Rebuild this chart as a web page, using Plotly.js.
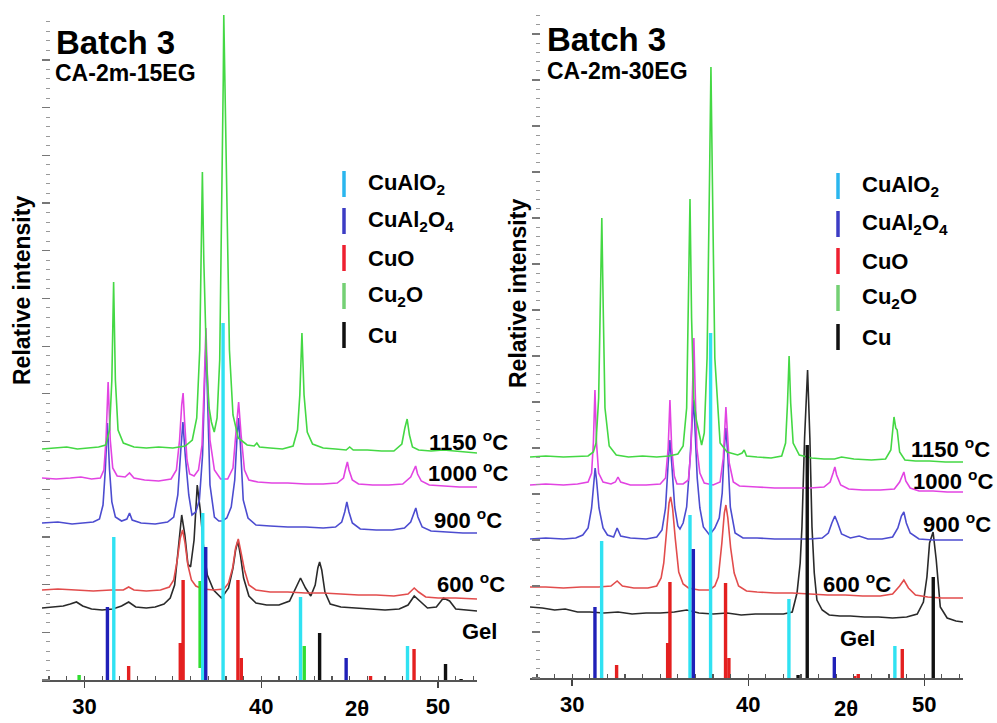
<!DOCTYPE html>
<html>
<head>
<meta charset="utf-8">
<script src="https://cdn.plot.ly/plotly-3.0.1.min.js"></script>
<style>
  html, body { margin: 0; padding: 0; background: #fff; }
  #chart { width: 997px; height: 723px; }
</style>
</head>
<body>
<div id="chart"></div>
<script>
// ---------- XRD patterns, 2θ (deg) vs relative intensity (a.u.) ----------
// Sample CA-2m-15EG (left panel)
const tt15_1150 = [27.6,28.3,29.0,29.6,30.2,30.8,31.2,31.42,31.55,31.65,31.75,31.9,32.2,32.8,33.5,34.2,35.0,35.7,36.1,36.35,36.52,36.6,36.67,36.75,36.9,37.05,37.18,37.34,37.5,37.65,37.78,37.85,37.88,37.94,38.05,38.2,38.4,38.7,39.2,39.6,39.75,39.9,40.5,41.2,41.8,42.05,42.18,42.3,42.42,42.6,42.9,43.5,44.2,44.8,45.0,45.2,46.0,46.8,47.5,47.95,48.12,48.25,48.38,48.55,48.9,49.6,50.3,51.0,51.6,52.2];
const int15_1150 = [231,232,233,231,232,233,235,250,300,398,300,250,237,233,232,233,232,234,240,262,330,420,508,420,320,272,258,248,262,320,480,600,665,600,470,330,265,242,235,234,237,233,232,231,234,250,285,347,285,248,236,232,231,230,233,230,230,229,229,236,252,261,245,233,230,229,230,229,228,227];

const tt15_1000 = [27.6,28.4,29.2,29.8,30.4,30.9,31.1,31.22,31.34,31.46,31.6,31.85,32.3,32.55,32.8,33.4,34.2,34.9,35.2,35.38,35.5,35.58,35.66,35.8,35.95,36.2,36.45,36.65,36.78,36.87,36.96,37.1,37.35,37.7,38.1,38.4,38.58,38.72,38.86,39.05,39.3,39.8,40.6,41.5,42.5,43.5,44.3,44.65,44.78,44.87,44.96,45.15,45.5,46.3,47.2,48.0,48.45,48.62,48.73,48.84,49.05,49.5,50.3,51.2,52.2];
const int15_1000 = [202,201,202,203,201,202,210,240,298,240,212,204,203,207,202,200,199,201,210,240,275,287,260,220,206,204,210,235,300,352,300,240,210,201,201,212,250,278,245,210,200,198,197,197,196,196,197,202,212,218,210,200,196,195,195,196,203,210,214,206,199,195,194,193,193];

const tt15_900 = [27.6,28.5,29.3,30.0,30.5,30.85,31.05,31.18,31.3,31.42,31.55,31.75,32.1,32.4,32.55,32.7,33.2,34.0,34.7,35.05,35.28,35.45,35.57,35.7,35.9,36.08,36.3,36.5,36.68,36.8,36.87,36.95,37.1,37.35,37.6,37.8,38.05,38.3,38.5,38.62,38.72,38.82,38.98,39.25,39.7,40.5,41.5,42.5,43.5,44.2,44.55,44.72,44.84,44.96,45.15,45.6,46.5,47.4,48.1,48.45,48.62,48.74,48.86,49.1,49.6,50.5,51.4,52.2];
const int15_900 = [157,158,156,157,158,161,175,210,257,210,178,163,159,161,167,160,157,156,158,163,185,230,258,225,185,165,168,180,225,300,335,290,195,163,159,159,162,173,200,240,262,235,180,162,155,154,153,153,152,153,158,168,178,168,157,151,150,150,152,158,167,172,163,153,149,148,147,147];

const tt15_600 = [27.6,28.5,29.5,30.5,31.5,32.2,32.5,32.8,33.5,34.3,34.8,35.05,35.25,35.42,35.55,35.68,35.85,36.05,36.3,36.7,37.3,37.9,38.15,38.38,38.55,38.7,38.85,39.05,39.3,39.7,40.5,41.5,42.5,43.5,44.5,45.5,46.5,47.5,48.3,48.65,48.9,49.3,50.0,51.0,52.2];
const int15_600 = [90,91,90,89,90,90,93,90,89,90,93,100,120,142,150,138,115,100,94,91,90,91,97,112,132,141,128,110,95,90,88,88,87,87,86,85,85,84,86,92,88,83,82,82,81];

const tt15_gel = [27.6,28.2,28.8,29.2,29.55,29.9,30.4,31.0,31.6,32.1,32.5,32.9,33.5,34.0,34.5,34.85,35.1,35.3,35.5,35.68,35.85,36.0,36.2,36.38,36.55,36.75,36.95,37.3,37.75,38.15,38.4,38.55,38.68,38.82,39.0,39.3,39.7,40.3,41.0,41.6,41.95,42.22,42.5,42.8,43.05,43.2,43.3,43.42,43.6,43.9,44.5,45.3,46.2,47.0,47.8,48.3,48.65,49.0,49.4,49.9,50.3,50.65,51.0,51.6,52.2];
const int15_gel = [72,73,74,76,78,74,71,70,71,74,78,73,72,73,76,82,95,130,165,145,116,113,140,195,170,130,105,90,82,92,112,130,139,125,102,84,77,75,75,79,92,102,92,84,95,112,118,110,88,76,73,72,71,70,71,75,84,78,72,73,82,79,71,70,69];

// Sample CA-2m-30EG (right panel)
const tt30_1150 = [27.6,28.5,29.5,30.3,30.9,31.2,31.35,31.5,31.6,31.68,31.76,31.86,32.1,32.5,33.2,34.0,34.8,35.5,36.0,36.3,36.5,36.6,36.69,36.78,36.9,37.05,37.16,37.35,37.5,37.66,37.8,37.88,37.96,38.1,38.4,38.8,39.4,39.65,39.77,39.9,40.5,41.3,41.9,42.12,42.23,42.32,42.41,42.55,42.9,43.6,44.3,44.9,45.3,46.0,47.0,47.8,48.1,48.2,48.28,48.38,48.46,48.6,48.9,49.5,50.3,51.2,52.2];
const int30_1150 = [221,222,221,222,222,226,235,280,380,460,370,270,232,223,221,222,221,222,224,232,270,360,479,360,280,258,250,233,245,320,500,611,500,320,235,226,223,225,228,222,221,220,222,235,275,322,275,235,223,220,219,219,221,219,218,219,228,250,261,250,248,226,218,217,217,216,216];

const tt30_1000 = [27.6,28.5,29.5,30.3,30.9,31.1,31.2,31.29,31.38,31.5,31.75,32.2,32.45,32.6,32.75,33.3,34.2,35.0,35.3,35.45,35.55,35.65,35.8,35.95,36.3,36.6,36.75,36.84,36.91,36.98,37.08,37.25,37.5,38.0,38.4,38.58,38.66,38.73,38.8,38.92,39.15,39.5,40.5,41.5,42.5,43.5,44.3,44.65,44.82,44.92,45.02,45.25,45.7,46.5,47.5,48.3,48.6,48.75,48.84,48.95,49.2,49.7,50.5,51.3,52.2];
const int30_1000 = [193,194,193,194,196,205,235,288,235,205,196,194,196,201,196,193,193,194,200,230,278,230,202,194,194,198,230,300,340,290,230,205,195,193,196,220,255,271,250,215,196,192,191,190,190,190,191,196,205,211,203,193,189,188,188,189,196,203,206,197,190,187,187,186,186];

const tt30_900 = [27.6,28.5,29.5,30.2,30.6,30.9,31.1,31.22,31.3,31.38,31.52,31.75,32.0,32.35,32.55,32.75,33.3,34.2,34.8,35.1,35.3,35.45,35.55,35.65,35.82,36.0,36.12,36.3,36.5,36.68,36.8,36.88,36.96,37.1,37.25,37.45,37.8,38.1,38.35,38.52,38.64,38.73,38.83,38.98,39.25,39.7,40.5,41.5,42.5,43.5,44.2,44.55,44.75,44.92,45.08,45.3,45.8,46.3,46.8,47.6,48.2,48.5,48.7,48.84,48.98,49.2,49.7,50.5,51.4,52.2];
const int30_900 = [139,140,139,140,143,150,170,198,210,198,170,150,143,141,150,142,140,139,141,148,170,215,238,215,171,152,149,155,171,215,260,278,255,200,170,151,143,150,160,185,230,250,225,171,145,140,140,139,139,139,140,145,155,162,155,144,140,142,139,139,141,150,162,166,155,145,139,138,138,138];

const tt30_600 = [27.6,28.5,29.5,30.5,31.5,32.2,32.55,32.85,33.5,34.3,34.8,35.05,35.2,35.38,35.5,35.59,35.7,35.85,36.05,36.3,36.6,37.2,37.8,38.1,38.3,38.5,38.64,38.73,38.84,39.0,39.2,39.45,39.9,40.5,41.5,42.5,43.5,44.5,45.5,46.5,47.5,48.2,48.6,48.84,49.1,49.5,50.2,51.0,52.2];
const int30_600 = [91,91,90,91,91,92,97,92,90,90,92,100,115,150,175,181,170,140,106,94,90,88,88,92,101,135,165,173,160,130,105,92,87,86,85,85,84,83,83,82,82,84,92,98,90,83,81,80,80];

const tt30_gel = [27.6,28.3,29.0,29.6,30.3,31.0,31.8,32.6,33.4,34.2,35.0,35.8,36.5,37.2,38.0,38.8,39.6,40.4,41.2,42.0,42.5,42.77,42.95,43.05,43.2,43.37,43.5,43.62,43.75,43.9,44.2,44.6,45.2,45.8,46.6,47.4,48.2,49.0,49.6,49.95,50.15,50.3,50.5,50.68,50.91,51.3,51.8,52.2];
const int30_gel = [71,70,68,69,66,66,65,66,64,65,65,66,68,65,64,65,63,64,64,64,66,85,115,151,240,308,240,151,105,78,68,63,62,62,61,61,60,61,64,76,101,135,146,118,71,60,57,56];

// ---------- reference stick patterns (2θ, relative height) ----------
const phaseNames  = ['CuAlO<sub>2</sub>', 'CuAl<sub>2</sub>O<sub>4</sub>', 'CuO', 'Cu<sub>2</sub>O', 'Cu'];
const phaseColors = ['#30e2f2', '#2020b8', '#e42020', '#30dd30', '#111111'];
const legendColors = ['#2ab6ee', '#3c3cc4', '#ee2030', '#74d074', '#111111'];

const sticks15 = [
  { pos: [31.66, 36.69, 37.84, 42.22, 48.27], h: [143, 167, 357, 83, 34] },
  { pos: [31.30, 36.86, 44.80], h: [73, 133, 22] },
  { pos: [32.50, 35.42, 35.58, 38.68, 38.87, 46.18, 48.64], h: [14, 37, 100, 100, 22, 4, 31] },
  { pos: [29.70, 36.54, 42.43], h: [5, 87, 34], base: [0, 12, 0] },
  { pos: [43.30, 50.42, 51.30], h: [47, 16, 1] }
];
const sticks30 = [
  { pos: [31.67, 36.69, 37.86, 42.31, 48.33], h: [137, 163, 345, 79, 32] },
  { pos: [31.29, 36.88, 44.89], h: [71, 129, 21] },
  { pos: [32.52, 35.42, 35.55, 38.71, 38.90, 46.05, 46.25, 48.75], h: [13, 35, 96, 95, 20, 2, 4, 29] },
  { pos: [], h: [] },
  { pos: [42.83, 43.35, 50.51], h: [3, 233, 101] }
];

const tempLabels = ['1150 <sup>o</sup>C', '1000 <sup>o</sup>C', '900 <sup>o</sup>C', '600 <sup>o</sup>C', 'Gel'];
const curveColors = ['#44d844', '#e244e2', '#4c4cd0', '#e24c4c', '#2a2a2a'];

// ---------- helpers ----------
const W = 997, H = 723;
const FONT = 'Liberation Sans, Arial, Helvetica, sans-serif';
const P = (x, y) => ({ x: x / W, y: 1 - y / H });

function curve(x, y, color, xa, ya) {
  return { type: 'scatter', mode: 'lines', x: x, y: y, xaxis: xa, yaxis: ya,
           line: { color: color, width: 1.6 }, hoverinfo: 'skip' };
}
function stickTrace(s, color, xa, ya) {
  const xs = [], ys = [];
  s.pos.forEach((p, i) => {
    const b = s.base ? s.base[i] : 0;
    xs.push(p, p, null);
    ys.push(b, b + s.h[i], null);
  });
  return { type: 'scatter', mode: 'lines', x: xs, y: ys, xaxis: xa, yaxis: ya,
           line: { color: color, width: 3.4 }, hoverinfo: 'skip' };
}

const traces = [];
// left panel: lowest pattern first so the upper ones lie on top
[[tt15_gel, int15_gel, 4], [tt15_600, int15_600, 3], [tt15_900, int15_900, 2],
 [tt15_1000, int15_1000, 1], [tt15_1150, int15_1150, 0]].forEach(c =>
  traces.push(curve(c[0], c[1], curveColors[c[2]], 'x', 'y')));
[[tt30_gel, int30_gel, 4], [tt30_600, int30_600, 3], [tt30_900, int30_900, 2],
 [tt30_1000, int30_1000, 1], [tt30_1150, int30_1150, 0]].forEach(c =>
  traces.push(curve(c[0], c[1], curveColors[c[2]], 'x2', 'y2')));
// stick patterns on top of the measured curves
[3, 0, 1, 2, 4].forEach(i => {
  traces.push(stickTrace(sticks15[i], phaseColors[i], 'x', 'y'));
  traces.push(stickTrace(sticks30[i], phaseColors[i], 'x2', 'y2'));
});

// ---------- text and legend ----------
const annotations = [];
const shapes = [];
function text(str, x, y, size, opts) {
  const p = P(x, y);
  annotations.push(Object.assign({ xref: 'paper', yref: 'paper', x: p.x, y: p.y, text: str,
    showarrow: false, xanchor: 'left', yanchor: 'middle',
    font: { family: FONT, size: size, color: '#000', weight: 700 } }, opts || {}));
}

// panel headings
text('Batch 3', 54, 42, 33);
text('CA-2m-15EG', 53, 73, 23);
text('Batch 3', 545, 39, 33);
text('CA-2m-30EG', 545, 71, 23);

// axis titles
text('Relative intensity', 22, 291, 23, { textangle: -90, xanchor: 'center' });
text('Relative intensity', 518, 294, 23, { textangle: -90, xanchor: 'center' });
text('2θ', 357, 723, 22, { xanchor: 'center', yanchor: 'bottom' });
text('2θ', 846, 723, 22, { xanchor: 'center', yanchor: 'bottom' });

// pattern labels
const tempPos15 = [[427, 441], [426, 472], [432, 519], [435, 583], [460, 631]];
const tempPos30 = [[909, 448], [911, 480], [921, 523], [821, 583], [838, 638]];
tempLabels.forEach((t, i) => {
  text(t, tempPos15[i][0], tempPos15[i][1], 22);
  text(t, tempPos30[i][0], tempPos30[i][1], 22);
});

// phase legends with vertical bar swatches
function legend(barX, labelX, rows) {
  phaseNames.forEach((name, i) => {
    const a = P(barX, rows[i] - 13), b = P(barX, rows[i] + 13);
    shapes.push({ type: 'line', xref: 'paper', yref: 'paper', x0: a.x, x1: b.x, y0: a.y, y1: b.y,
                  line: { color: legendColors[i], width: 3.5 } });
    text(name, labelX, rows[i], 22);
  });
}
legend(344, 366, [184, 221, 258, 296, 335]);
legend(838, 860, [186, 224, 261, 298, 337]);

// ---------- axes ----------
function xAxis(d0, d1, anchor) {
  return {
    domain: [d0 / W, d1 / W], range: [27.6, 52.2], anchor: anchor,
    tickmode: 'array', tickvals: [30, 40, 50], ticktext: ['30', '40', '50'],
    ticks: 'outside', ticklen: 6, tickwidth: 1.5, tickcolor: '#444',
    tickfont: { family: FONT, size: 22, color: '#000', weight: 700 },
    minor: { tickmode: 'linear', tick0: 0, dtick: 1, ticks: 'inside', ticklen: 4, tickwidth: 1.2, tickcolor: '#555' },
    showline: true, linecolor: '#555', linewidth: 1.5,
    showgrid: false, zeroline: false, fixedrange: true
  };
}
function yAxis(bottom, top, maxI, step, posX) {
  return {
    domain: [1 - bottom / H, 1 - top / H], range: [0, maxI], anchor: 'free', position: posX / W,
    tickmode: 'linear', tick0: 0, dtick: step, showticklabels: false,
    ticks: 'outside', ticklen: 8, tickwidth: 1.2, tickcolor: '#777',
    minor: { tickmode: 'linear', tick0: 0, dtick: step / 5, ticks: 'outside', ticklen: 4, tickwidth: 1, tickcolor: '#999' },
    showline: false, showgrid: false, zeroline: false, fixedrange: true
  };
}

const layout = {
  width: W, height: H,
  margin: { l: 0, r: 0, t: 0, b: 0 },
  paper_bgcolor: '#fff', plot_bgcolor: '#fff',
  showlegend: false,
  font: { family: FONT, color: '#000' },
  xaxis: xAxis(42, 477, 'y'),
  yaxis: yAxis(680, 13, 667, 47.7, 50),
  xaxis2: xAxis(530, 963, 'y2'),
  yaxis2: yAxis(678, 13, 665, 46, 540),
  annotations: annotations,
  shapes: shapes
};

Plotly.newPlot('chart', traces, layout, { staticPlot: true, displayModeBar: false });
</script>
</body>
</html>
